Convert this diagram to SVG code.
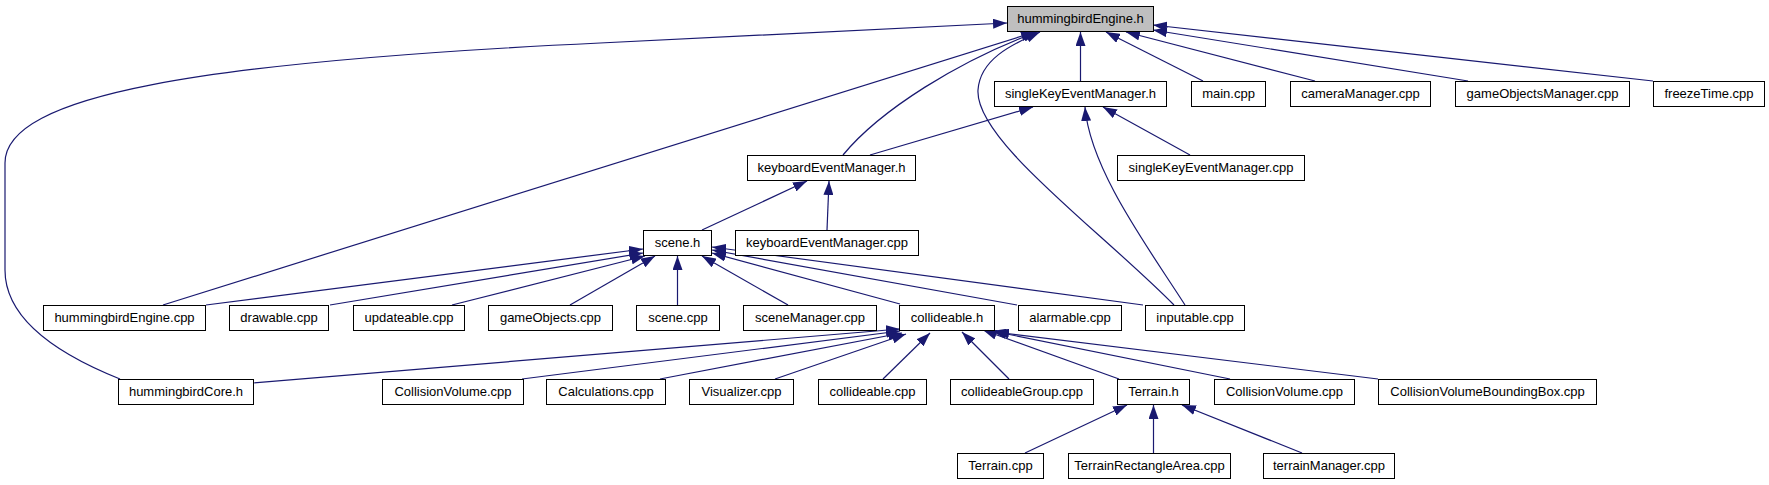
<svg xmlns="http://www.w3.org/2000/svg" width="1769" height="485" viewBox="0 0 1769 485">
<style>
.n rect{fill:#fff;stroke:#000;stroke-width:1}
.n.root rect{fill:#bfbfbf}
.n text{font-family:"Liberation Sans",Arial,sans-serif;font-size:13px;text-anchor:middle;fill:#000}
.e path{fill:none;stroke:#191970;stroke-width:1.2;marker-end:url(#a)}
</style>
<defs>
<marker id="a" markerUnits="userSpaceOnUse" viewBox="0 0 14 10" markerWidth="14" markerHeight="10" refX="14" refY="5" orient="auto">
<path d="M0,0 L14,5 L0,10 z" fill="#191970"/>
</marker>
</defs>
<rect width="1769" height="485" fill="#fff"/>
<g id="edges" class="e">
<path d="M120,379 C60,355 5,320 5,270 L5,163 C5,95 200,62 600,43 L1007,23"/>
<path d="M163,305 L1035,32"/>
<path d="M843,155 C880,110 960,60 1037,32"/>
<path d="M1174,305 C1100,230 975,140 978,90 C980,60 1010,45 1040,32"/>
<path d="M1080.5,81 L1080.5,32"/>
<path d="M1203,81 L1106,32"/>
<path d="M1315,81 L1126,32"/>
<path d="M1468,81 L1153,30"/>
<path d="M1653,81 L1153,25"/>
<path d="M870,155 L1033,107"/>
<path d="M1185,305 C1150,250 1090,170 1085,107"/>
<path d="M1190,155 L1103,107"/>
<path d="M702,230 L807,181"/>
<path d="M827,230 L829,181"/>
<path d="M206,305 L643,249"/>
<path d="M330,305 L643,253"/>
<path d="M452,305 L645,256"/>
<path d="M570,305 L655,256"/>
<path d="M677.5,305 L677.5,256"/>
<path d="M788,305 L702,256"/>
<path d="M900,304 L712,253"/>
<path d="M1017,305 L712,250"/>
<path d="M1143,305 L712,247"/>
<path d="M253,383 L900,329"/>
<path d="M522,379 L900,331"/>
<path d="M660,379 L902,333"/>
<path d="M775,379 L906,334"/>
<path d="M883,379 L930,333"/>
<path d="M1009,379 L962,332"/>
<path d="M1119,379 L983,330"/>
<path d="M1230,379 L992,331"/>
<path d="M1378,379 L995,332"/>
<path d="M1025,453 L1127,405"/>
<path d="M1153.5,453 L1153.5,405"/>
<path d="M1302,453 L1182,405"/>
</g>
<g id="hummingbirdEngine_h" class="n root"><rect x="1007.5" y="6.5" width="146" height="25"/><text x="1080.5" y="23">hummingbirdEngine.h</text></g>
<g id="singleKeyEventManager_h" class="n"><rect x="994.5" y="81.5" width="172" height="25"/><text x="1080.5" y="98">singleKeyEventManager.h</text></g>
<g id="main_cpp" class="n"><rect x="1191.5" y="81.5" width="74" height="25"/><text x="1228.5" y="98">main.cpp</text></g>
<g id="cameraManager_cpp" class="n"><rect x="1290.5" y="81.5" width="140" height="25"/><text x="1360.5" y="98">cameraManager.cpp</text></g>
<g id="gameObjectsManager_cpp" class="n"><rect x="1455.5" y="81.5" width="174" height="25"/><text x="1542.5" y="98">gameObjectsManager.cpp</text></g>
<g id="freezeTime_cpp" class="n"><rect x="1653.5" y="81.5" width="111" height="25"/><text x="1709" y="98">freezeTime.cpp</text></g>
<g id="keyboardEventManager_h" class="n"><rect x="747.5" y="155.5" width="168" height="25"/><text x="831.5" y="172">keyboardEventManager.h</text></g>
<g id="singleKeyEventManager_cpp" class="n"><rect x="1117.5" y="155.5" width="187" height="25"/><text x="1211" y="172">singleKeyEventManager.cpp</text></g>
<g id="scene_h" class="n"><rect x="643.5" y="230.5" width="68" height="25"/><text x="677.5" y="247">scene.h</text></g>
<g id="keyboardEventManager_cpp" class="n"><rect x="735.5" y="230.5" width="183" height="25"/><text x="827" y="247">keyboardEventManager.cpp</text></g>
<g id="hummingbirdEngine_cpp" class="n"><rect x="43.5" y="305.5" width="162" height="25"/><text x="124.5" y="322">hummingbirdEngine.cpp</text></g>
<g id="drawable_cpp" class="n"><rect x="229.5" y="305.5" width="99" height="25"/><text x="279" y="322">drawable.cpp</text></g>
<g id="updateable_cpp" class="n"><rect x="353.5" y="305.5" width="111" height="25"/><text x="409" y="322">updateable.cpp</text></g>
<g id="gameObjects_cpp" class="n"><rect x="488.5" y="305.5" width="124" height="25"/><text x="550.5" y="322">gameObjects.cpp</text></g>
<g id="scene_cpp" class="n"><rect x="636.5" y="305.5" width="83" height="25"/><text x="678" y="322">scene.cpp</text></g>
<g id="sceneManager_cpp" class="n"><rect x="743.5" y="305.5" width="133" height="25"/><text x="810" y="322">sceneManager.cpp</text></g>
<g id="collideable_h" class="n"><rect x="899.5" y="305.5" width="95" height="25"/><text x="947" y="322">collideable.h</text></g>
<g id="alarmable_cpp" class="n"><rect x="1018.5" y="305.5" width="103" height="25"/><text x="1070" y="322">alarmable.cpp</text></g>
<g id="inputable_cpp" class="n"><rect x="1145.5" y="305.5" width="99" height="25"/><text x="1195" y="322">inputable.cpp</text></g>
<g id="hummingbirdCore_h" class="n"><rect x="118.5" y="379.5" width="135" height="25"/><text x="186" y="396">hummingbirdCore.h</text></g>
<g id="CollisionVolume_cpp_1" class="n"><rect x="382.5" y="379.5" width="141" height="25"/><text x="453" y="396">CollisionVolume.cpp</text></g>
<g id="Calculations_cpp" class="n"><rect x="546.5" y="379.5" width="119" height="25"/><text x="606" y="396">Calculations.cpp</text></g>
<g id="Visualizer_cpp" class="n"><rect x="689.5" y="379.5" width="104" height="25"/><text x="741.5" y="396">Visualizer.cpp</text></g>
<g id="collideable_cpp" class="n"><rect x="818.5" y="379.5" width="108" height="25"/><text x="872.5" y="396">collideable.cpp</text></g>
<g id="collideableGroup_cpp" class="n"><rect x="950.5" y="379.5" width="143" height="25"/><text x="1022" y="396">collideableGroup.cpp</text></g>
<g id="Terrain_h" class="n"><rect x="1117.5" y="379.5" width="72" height="25"/><text x="1153.5" y="396">Terrain.h</text></g>
<g id="CollisionVolume_cpp_2" class="n"><rect x="1214.5" y="379.5" width="140" height="25"/><text x="1284.5" y="396">CollisionVolume.cpp</text></g>
<g id="CollisionVolumeBoundingBox_cpp" class="n"><rect x="1378.5" y="379.5" width="218" height="25"/><text x="1487.5" y="396">CollisionVolumeBoundingBox.cpp</text></g>
<g id="Terrain_cpp" class="n"><rect x="957.5" y="453.5" width="86" height="25"/><text x="1000.5" y="470">Terrain.cpp</text></g>
<g id="TerrainRectangleArea_cpp" class="n"><rect x="1068.5" y="453.5" width="162" height="25"/><text x="1149.5" y="470">TerrainRectangleArea.cpp</text></g>
<g id="terrainManager_cpp" class="n"><rect x="1263.5" y="453.5" width="131" height="25"/><text x="1329" y="470">terrainManager.cpp</text></g>
</svg>
